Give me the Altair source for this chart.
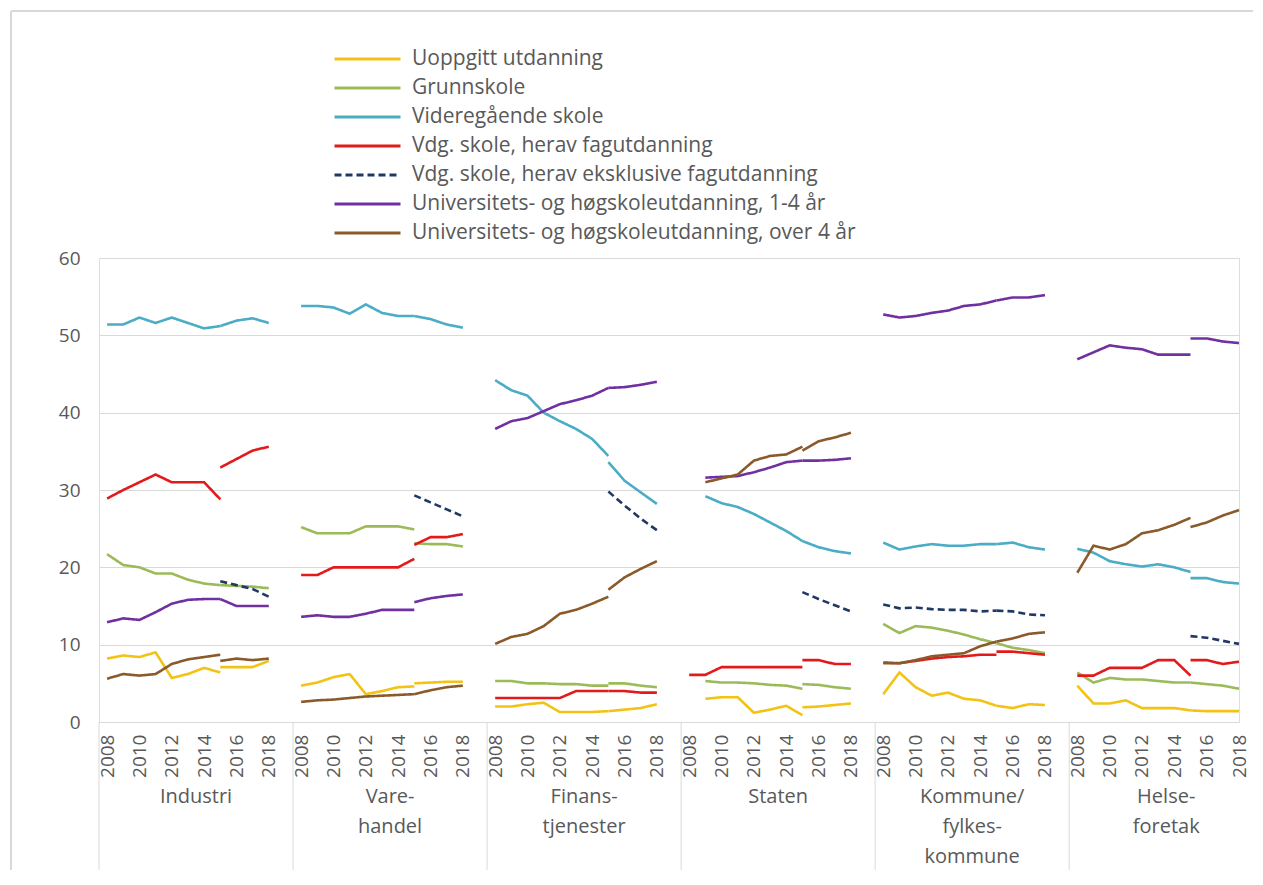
import altair as alt
import pandas as pd

# ---------------- data ----------------
SECTORS = ["Industri", "Vare-\nhandel", "Finans-\ntjenester", "Staten",
           "Kommune/\nfylkes-\nkommune", "Helse-\nforetak"]
# each sector row: 2008..2015 (old series) followed by 2015..2018 (new series)
YEARS_OLD = [2008, 2009, 2010, 2011, 2012, 2013, 2014, 2015]
YEARS_NEW = [2015, 2016, 2017, 2018]
YEAR_TICKS = [2008, 2010, 2012, 2014, 2016, 2018]
Y_TICKS = [0, 10, 20, 30, 40, 50, 60]

SERIES = [
    "Uoppgitt utdanning",
    "Grunnskole",
    "Videregående skole",
    "Vdg. skole, herav fagutdanning",
    "Vdg. skole, herav eksklusive fagutdanning",
    "Universitets- og høgskoleutdanning, 1-4 år",
    "Universitets- og høgskoleutdanning, over 4 år",
]
COLORS = ["#F2C314", "#9BBB59", "#4BACC6", "#E31A1C", "#1F3864", "#7030A0", "#8B5A2B"]
DASHES = [[1, 0], [1, 0], [1, 0], [1, 0], [7, 4], [1, 0], [1, 0]]

N = None
UOPPGITT = [
    [8.2, 8.6, 8.4, 9.0, 5.7, 6.2, 7.0, 6.4, 7.1, 7.1, 7.1, 7.9],
    [4.7, 5.1, 5.8, 6.2, 3.6, 4.0, 4.5, 4.6, 5.0, 5.1, 5.2, 5.2],
    [2.0, 2.0, 2.3, 2.5, 1.3, 1.3, 1.3, 1.4, 1.4, 1.6, 1.8, 2.3],
    [N, 3.0, 3.2, 3.2, 1.2, 1.6, 2.1, 0.9, 1.9, 2.0, 2.2, 2.4],
    [3.6, 6.4, 4.5, 3.4, 3.8, 3.0, 2.8, 2.1, 2.1, 1.8, 2.3, 2.2],
    [4.7, 2.4, 2.4, 2.8, 1.8, 1.8, 1.8, 1.5, 1.5, 1.4, 1.4, 1.4],
]
GRUNNSKOLE = [
    [21.7, 20.3, 20.0, 19.2, 19.2, 18.4, 17.9, 17.7, 17.7, 17.6, 17.5, 17.3],
    [25.2, 24.4, 24.4, 24.4, 25.3, 25.3, 25.3, 24.9, 23.1, 23.0, 23.0, 22.7],
    [5.3, 5.3, 5.0, 5.0, 4.9, 4.9, 4.7, 4.7, 5.0, 5.0, 4.7, 4.5],
    [N, 5.3, 5.1, 5.1, 5.0, 4.8, 4.7, 4.3, 4.9, 4.8, 4.5, 4.3],
    [12.7, 11.5, 12.4, 12.2, 11.8, 11.3, 10.7, 10.2, 10.2, 9.6, 9.3, 8.9],
    [6.4, 5.1, 5.7, 5.5, 5.5, 5.3, 5.1, 5.1, 5.1, 4.9, 4.7, 4.3],
]
VIDEREGAENDE = [
    [51.4, 51.4, 52.3, 51.6, 52.3, 51.6, 50.9, 51.2, 51.2, 51.9, 52.2, 51.6],
    [53.8, 53.8, 53.6, 52.8, 54.0, 52.9, 52.5, 52.5, 52.5, 52.1, 51.4, 51.0],
    [44.2, 42.9, 42.2, 40.0, 38.9, 37.9, 36.6, 34.4, 33.6, 31.2, 29.7, 28.2],
    [N, 29.2, 28.3, 27.8, 26.9, 25.8, 24.7, 23.4, 23.4, 22.6, 22.1, 21.8],
    [23.2, 22.3, 22.7, 23.0, 22.8, 22.8, 23.0, 23.0, 23.0, 23.2, 22.6, 22.3],
    [22.4, 21.9, 20.8, 20.4, 20.1, 20.4, 20.0, 19.4, 18.6, 18.6, 18.1, 17.9],
]
VDG_FAG = [
    [28.9, 30.0, 31.0, 32.0, 31.0, 31.0, 31.0, 28.8, 32.9, 34.0, 35.1, 35.6],
    [19.0, 19.0, 20.0, 20.0, 20.0, 20.0, 20.0, 21.1, 22.9, 23.9, 23.9, 24.3],
    [3.1, 3.1, 3.1, 3.1, 3.1, 4.0, 4.0, 4.0, 4.0, 4.0, 3.8, 3.8],
    [6.1, 6.1, 7.1, 7.1, 7.1, 7.1, 7.1, 7.1, 8.0, 8.0, 7.5, 7.5],
    [7.7, 7.6, 7.9, 8.2, 8.4, 8.5, 8.7, 8.7, 9.1, 9.1, 8.9, 8.7],
    [6.0, 6.0, 7.0, 7.0, 7.0, 8.0, 8.0, 6.0, 8.0, 8.0, 7.5, 7.8],
]
VDG_EKSKL = [
    [N, N, N, N, N, N, N, N, 18.2, 17.7, 17.2, 16.2],
    [N, N, N, N, N, N, N, N, 29.3, 28.4, 27.5, 26.6],
    [N, N, N, N, N, N, N, N, 29.8, 28.0, 26.3, 24.8],
    [N, N, N, N, N, N, N, N, 16.8, 15.9, 15.1, 14.3],
    [15.2, 14.7, 14.8, 14.6, 14.5, 14.5, 14.3, 14.4, 14.4, 14.3, 13.9, 13.8],
    [N, N, N, N, N, N, N, N, 11.1, 10.9, 10.5, 10.1],
]
UNI_1_4 = [
    [12.9, 13.4, 13.2, 14.2, 15.3, 15.8, 15.9, 15.9, 15.9, 15.0, 15.0, 15.0],
    [13.6, 13.8, 13.6, 13.6, 14.0, 14.5, 14.5, 14.5, 15.5, 16.0, 16.3, 16.5],
    [37.9, 38.9, 39.3, 40.2, 41.1, 41.6, 42.2, 43.2, 43.2, 43.3, 43.6, 44.0],
    [N, 31.6, 31.7, 31.8, 32.3, 32.9, 33.6, 33.8, 33.8, 33.8, 33.9, 34.1],
    [52.7, 52.3, 52.5, 52.9, 53.2, 53.8, 54.0, 54.5, 54.5, 54.9, 54.9, 55.2],
    [46.9, 47.8, 48.7, 48.4, 48.2, 47.5, 47.5, 47.5, 49.6, 49.6, 49.2, 49.0],
]
UNI_OVER_4 = [
    [5.6, 6.2, 6.0, 6.2, 7.5, 8.1, 8.4, 8.7, 7.9, 8.2, 8.0, 8.2],
    [2.6, 2.8, 2.9, 3.1, 3.3, 3.4, 3.5, 3.6, 3.6, 4.1, 4.5, 4.7],
    [10.1, 11.0, 11.4, 12.4, 14.0, 14.5, 15.3, 16.2, 17.1, 18.7, 19.8, 20.8],
    [N, 31.0, 31.5, 32.0, 33.8, 34.4, 34.6, 35.6, 35.1, 36.3, 36.8, 37.4],
    [7.6, 7.6, 8.0, 8.5, 8.7, 8.9, 9.8, 10.4, 10.4, 10.8, 11.4, 11.6],
    [19.3, 22.8, 22.3, 23.0, 24.4, 24.8, 25.5, 26.4, 25.2, 25.8, 26.7, 27.4],
]
VALUES = [UOPPGITT, GRUNNSKOLE, VIDEREGAENDE, VDG_FAG, VDG_EKSKL, UNI_1_4, UNI_OVER_4]

SLOTS = 12  # 11 years + one empty slot per sector

rows = []
for si, (name, table) in enumerate(zip(SERIES, VALUES)):
    for g, vals in enumerate(table):
        for i, v in enumerate(vals):
            if v is None:
                continue
            if i < len(YEARS_OLD):
                year, seg = YEARS_OLD[i], "a"
            else:
                year, seg = YEARS_NEW[i - len(YEARS_OLD)], "b"
            rows.append({
                "series": name, "order": si, "pos": g * SLOTS + (year - 2008),
                "value": v, "line": f"{si}-{g}-{seg}",
            })
df = pd.DataFrame(rows)

tick_values = [g * SLOTS + (y - 2008) for g in range(len(SECTORS)) for y in YEAR_TICKS]
sep_df = pd.DataFrame({"pos": [g * SLOTS - 0.5 for g in range(len(SECTORS))]})
lab_df = pd.DataFrame({"pos": [g * SLOTS + 5.5 for g in range(len(SECTORS))],
                       "label": SECTORS})

W, H = 1140, 464
GRAY = "#595959"
LIGHT = "#D9D9D9"
FONT = "Open Sans"

xscale = alt.Scale(domain=[-0.5, 70], nice=False, zero=False)
yscale = alt.Scale(domain=[0, 60], nice=False)

# legend line symbol: custom path twice as long as its nominal size
legend = alt.Legend(
    orient="none", legendX=234, legendY=-217, title=None,
    symbolType="M-1,0H3", symbolSize=1089, symbolStrokeWidth=3,
    labelFontSize=21, labelColor=GRAY, labelFont=FONT, labelOffset=43,
    labelLimit=900, padding=0, rowPadding=1,
)

xaxis = alt.Axis(values=tick_values, labelExpr="toString(2008 + datum.value % 12)",
                 labelAngle=270, labelFontSize=19, labelColor=GRAY, labelFont=FONT,
                 labelPadding=12, ticks=False, grid=False, domainColor=LIGHT,
                 labelOverlap=False, labelFlush=False, labelBound=False)

lines = alt.Chart(df).mark_line(strokeWidth=2.6, clip=False).encode(
    x=alt.X("pos:Q", scale=xscale, title=None, axis=xaxis),
    y=alt.Y("value:Q", scale=yscale, title=None,
            axis=alt.Axis(values=Y_TICKS, labelFontSize=19, labelColor=GRAY, labelFont=FONT,
                          labelPadding=19, ticks=False, domain=False, gridColor=LIGHT)),
    color=alt.Color("series:N", scale=alt.Scale(domain=SERIES, range=COLORS), legend=legend),
    strokeDash=alt.StrokeDash("series:N", scale=alt.Scale(domain=SERIES, range=DASHES), legend=legend),
    detail="line:N",
    order="pos:Q",
)

seps = alt.Chart(sep_df).mark_rule(color=LIGHT, strokeWidth=1, clip=False).encode(
    x=alt.X("pos:Q", scale=xscale, title=None, axis=xaxis),
    y=alt.value(H), y2=alt.value(H + 170),
)

group_labels = alt.Chart(lab_df).mark_text(
    fontSize=20, font=FONT, color=GRAY, baseline="top", align="center",
    lineBreak="\n", lineHeight=30, clip=False,
).encode(
    x=alt.X("pos:Q", scale=xscale, title=None, axis=xaxis),
    y=alt.value(H + 65),
    text="label:N",
)

frame_v = alt.Chart(sep_df).mark_rule(color=LIGHT, strokeWidth=1.5).encode(
    x=alt.value(-88), y=alt.value(-247), y2=alt.value(H + 170))
frame_h = alt.Chart(sep_df).mark_rule(color=LIGHT, strokeWidth=1.5).encode(
    x=alt.value(-88), x2=alt.value(W + 30), y=alt.value(-247))

chart = alt.layer(lines, seps, group_labels, frame_v, frame_h).properties(
    width=W, height=H,
    autosize=alt.AutoSizeParams(type="none"),
    padding={"left": 91, "top": 250, "right": 14, "bottom": 148},
).configure_view(stroke=None).configure(font=FONT, background="white")

chart.save("out.html", embed_options={"renderer": "svg", "actions": False})
